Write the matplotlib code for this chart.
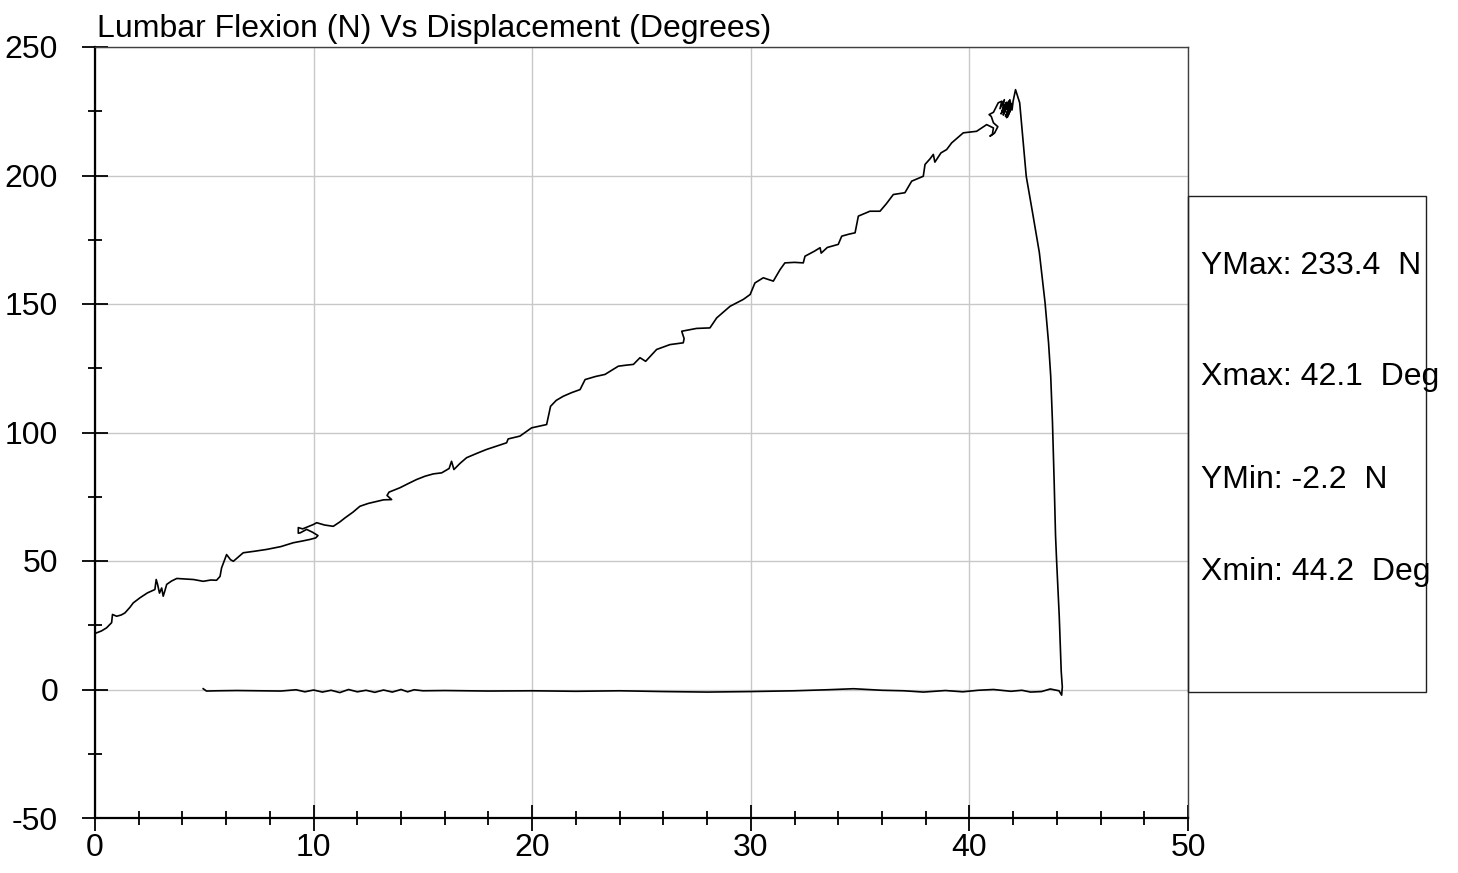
import numpy as np
import matplotlib.pyplot as plt
from matplotlib.patches import Rectangle

plt.rcParams['font.family'] = ['Liberation Sans', 'DejaVu Sans']
plt.rcParams['axes.unicode_minus'] = False

# loading branch
load_x = [0.0, 0.3, 0.53, 0.76, 0.80, 0.99, 1.2, 1.37, 1.6, 1.75, 2.06, 2.4, 2.74, 2.80, 2.86,
          2.95, 3.05, 3.12, 3.20, 3.28, 3.5, 3.74, 4.1, 4.5, 4.95, 5.3, 5.56, 5.72, 5.79, 6.02,
          6.20, 6.33, 6.55, 6.78, 7.3, 7.85, 8.5, 9.07, 9.5, 9.84, 10.1, 10.2, 9.95, 9.68, 9.4,
          9.30, 9.30, 9.5, 9.99, 10.14, 10.5, 10.9, 11.2, 11.44, 11.8, 12.12, 12.5, 12.96, 13.2,
          13.57, 13.36, 13.45, 13.95, 14.3, 14.71, 15.1, 15.48, 15.86, 16.2, 16.31, 16.42, 16.7,
          17.0, 17.5, 17.91, 18.4, 18.83, 18.9, 19.44, 19.97, 20.4, 20.66, 20.84, 21.1, 21.42,
          21.8, 22.19, 22.42, 22.9, 23.33, 23.94, 24.3, 24.63, 24.93, 25.19, 25.69, 26.3, 26.91,
          26.95, 26.84, 27.52, 28.13, 28.44, 29.05, 29.66, 29.97, 30.19, 30.57, 31.03, 31.34,
          31.56, 32.0, 32.4, 32.48, 32.9, 33.17, 33.22, 33.5, 34.0, 34.16, 34.5, 34.77, 34.92,
          35.45, 35.91, 36.2, 36.52, 37.05, 37.36, 37.89, 37.97, 38.2, 38.35, 38.42, 38.7, 38.96,
          39.19, 39.5, 39.72, 40.33, 40.79, 41.10, 41.05, 40.94, 41.15, 41.30, 41.10, 41.0, 40.9,
          41.1, 41.32, 41.48, 41.4, 41.6, 41.5, 41.7, 41.45, 41.65, 41.55, 41.75, 41.6, 41.8,
          41.7, 41.86, 41.65, 41.9, 41.75, 41.95, 41.8, 41.85, 41.95, 42.0, 42.11]
load_y = [21.8, 22.8, 24.0, 26.0, 29.2, 28.5, 29.0, 29.8, 32.0, 33.7, 35.7, 37.6, 38.9, 42.8, 41.0,
          37.5, 39.5, 36.3, 38.5, 40.9, 42.2, 43.2, 43.0, 42.8, 42.1, 42.6, 42.5, 44.0, 47.3, 52.5,
          50.5, 49.9, 51.5, 53.2, 53.8, 54.5, 55.6, 57.1, 57.8, 58.4, 59.0, 59.9, 61.2, 62.3, 61.0,
          60.8, 63.0, 62.5, 64.2, 64.9, 64.0, 63.5, 65.2, 66.8, 69.0, 71.3, 72.4, 73.3, 73.8,
          73.9, 75.5, 76.8, 78.5, 80.0, 81.7, 83.0, 83.9, 84.3, 86.0, 88.8, 85.6, 88.0,
          90.2, 92.0, 93.4, 94.8, 96.0, 97.5, 98.6, 101.8, 102.6, 103.1, 110.2, 112.5, 114.1,
          115.5, 116.7, 120.6, 121.8, 122.6, 125.8, 126.2, 126.5, 129.1, 127.7, 132.3, 134.2, 134.9,
          136.5, 139.4, 140.5, 140.7, 144.6, 149.1, 151.8, 153.7, 158.2, 160.2, 158.9, 163.4,
          166.0, 166.2, 166.0, 168.6, 170.5, 171.9, 169.8, 172.0, 173.2, 176.4, 177.2, 177.7, 184.2,
          186.1, 186.1, 189.0, 192.6, 193.3, 197.8, 199.7, 204.3, 206.5, 208.2, 205.2, 208.8, 210.1,
          212.7, 215.0, 216.6, 217.2, 219.8, 218.5, 216.0, 215.3, 216.5, 219.0, 220.5, 223.0, 223.7,
          224.6, 228.3, 228.9, 226.0, 229.5, 225.0, 228.5, 224.0, 227.5, 223.5, 228.0, 224.5, 229.0,
          222.5, 226.5, 223.0, 228.0, 222.8, 227.0, 224.0, 229.5, 225.5, 228.9, 233.4]

# failure drop
drop_x = [42.3, 42.45, 42.6, 42.9, 43.2, 43.46, 43.62, 43.72, 43.8, 43.88, 43.94, 43.99, 44.11, 44.2, 44.25, 44.22]
drop_y = [228.3, 214.0, 199.7, 185.0, 170.0, 150.6, 135.0, 121.9, 104.0, 80.0, 60.0, 50.0, 28.5, 7.1, 1.0, -2.2]

# return stroke along zero
ret_x = [44.1, 43.7, 43.3, 42.8, 42.4, 41.9, 41.1, 40.4, 39.7, 38.9, 37.9, 37.0, 36.0, 34.7, 33.5,
         32.0, 30.0, 28.0, 26.0, 24.0, 22.0, 20.0, 18.0, 16.0, 15.0, 14.6, 14.3, 14.0, 13.6, 13.2,
         12.8, 12.4, 12.0, 11.6, 11.2, 10.8, 10.4, 10.0, 9.6, 9.2, 8.5, 7.5, 6.5, 5.6, 5.1, 4.95]
ret_y = [-0.5, 0.2, -0.8, -1.0, -0.3, -0.7, 0.0, -0.3, -0.9, -0.4, -1.0, -0.5, -0.3, 0.3, -0.1,
         -0.5, -0.8, -1.0, -0.8, -0.5, -0.7, -0.5, -0.6, -0.4, -0.5, -0.1, -0.9, 0.0, -1.0, -0.2,
         -1.1, -0.3, -0.9, 0.0, -1.2, -0.3, -1.0, -0.2, -0.9, -0.1, -0.6, -0.5, -0.4, -0.5, -0.6, 0.3]

stats = ['YMax: 233.4  N', 'Xmax: 42.1  Deg', 'YMin: -2.2  N', 'Xmin: 44.2  Deg']

W, H = 1458, 873
fig = plt.figure(figsize=(W / 100, H / 100), dpi=100)
ax = fig.add_axes([95 / W, 1 - 818 / H, (1188 - 95) / W, (818 - 47) / H])

x = np.concatenate([load_x, drop_x, ret_x])
y = np.concatenate([load_y, drop_y, ret_y])
ax.plot(x, y, color='black', lw=1.2, zorder=3)

ax.set_xlim(0, 50)
ax.set_ylim(-50, 250)
ax.set_xticks(np.arange(0, 51, 10))
ax.set_xticks(np.arange(0, 51, 2), minor=True)
ax.set_yticks(np.arange(-50, 251, 50))
ax.set_yticks(np.arange(-50, 251, 25), minor=True)
ax.grid(True, which='major', color='#c8c8c8', lw=1.0)
ax.set_axisbelow(True)

ax.tick_params(which='major', direction='inout', length=19, width=1.3, labelsize=23)
ax.tick_params(which='minor', direction='inout', length=10, width=1.3)
ax.tick_params(axis='y', which='major', pad=17)
ax.tick_params(axis='x', which='major', pad=1)

for s in ['left', 'bottom']:
    ax.spines[s].set_linewidth(1.6)
    ax.spines[s].set_color('black')
for s in ['top', 'right']:
    ax.spines[s].set_linewidth(1.0)
    ax.spines[s].set_color('#404040')

fig.text(97 / W, 1 - 37 / H, 'Lumbar Flexion (N) Vs Displacement (Degrees)',
         fontsize=23, va='baseline', ha='left')

box = Rectangle((1188 / W, 1 - 692 / H), (1426 - 1188) / W, (692 - 196) / H,
                transform=fig.transFigure, fill=False, edgecolor='#202020', lw=1.0)
fig.patches.append(box)
for label, yc in zip(stats, [266, 377, 480, 572]):
    fig.text(1201 / W, 1 - yc / H, label, fontsize=23, va='center', ha='left')

fig.savefig('out.png', dpi=100)
